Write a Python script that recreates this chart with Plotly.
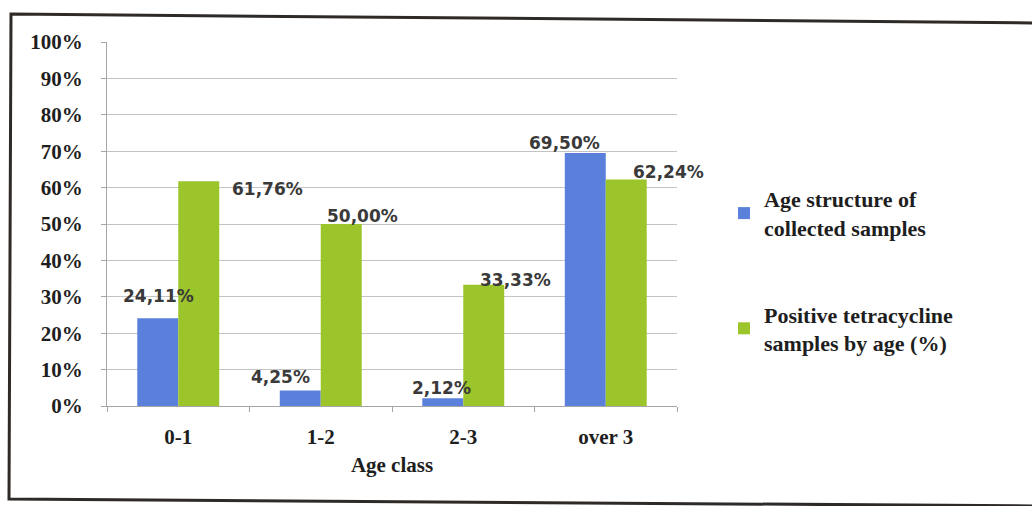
import plotly.graph_objects as go

# ---- data ----
categories = ["0-1", "1-2", "2-3", "over 3"]
age_structure = [24.11, 4.25, 2.12, 69.50]
positive_tetra = [61.76, 50.00, 33.33, 62.24]
series_names = ["Age structure of<br>collected samples",
                "Positive tetracycline<br>samples by age (%)"]
y_ticks = [0, 10, 20, 30, 40, 50, 60, 70, 80, 90, 100]
y_tick_labels = [f"{v}%" for v in y_ticks]

# ---- style ----
BLUE = "#5b80db"
GREEN = "#9cc52b"
GRID = "#c4c4c4"
AXIS = "#a6a6a6"
TEXT = "#1e1e1e"
LABEL_TEXT = "#3a3a3a"
SERIF = "Liberation Serif"

# label offsets (pixels) relative to category centre / bar top
blue_dx = [-20, -40, -22, -41]
blue_dy = [22, 14, 10, 10]
green_dx = [89, 42, 52, 63]
green_dy = [-8, 8, 5, 7]

# plot-area geometry in pixels
W, H = 1032, 506
PL, PR, PT, PB = 107, 677, 42, 406


def px2paper(px, py):
    return (px - PL) / (PR - PL), (PB - py) / (PB - PT)


fig = go.Figure()
fig.add_trace(go.Bar(x=categories, y=age_structure, name=series_names[0],
                     marker=dict(color=BLUE, line=dict(width=0)),
                     legendgroup="a"))
fig.add_trace(go.Bar(x=categories, y=positive_tetra, name=series_names[1],
                     marker=dict(color=GREEN, line=dict(width=0)),
                     legendgroup="b"))


def fmt(v):
    return f"{v:.2f}".replace(".", ",") + "%"


annotations = []
for i, c in enumerate(categories):
    for vals, dxs, dys in ((age_structure, blue_dx, blue_dy),
                           (positive_tetra, green_dx, green_dy)):
        annotations.append(dict(
            x=c, y=vals[i], xref="x", yref="y", text=fmt(vals[i]),
            showarrow=False, xanchor="center", yanchor="middle",
            xshift=dxs[i], yshift=dys[i],
            font=dict(family="DejaVu Sans", size=17, color=LABEL_TEXT,
                      weight="bold")))

# scanned outer frame (slightly tilted)
p1 = px2paper(11, 14)
p2 = px2paper(1040, 23)
p3 = px2paper(1040, 506)
p4 = px2paper(9, 499)
frame_path = (f"M{p2[0]},{p2[1]} L{p1[0]},{p1[1]} L{p4[0]},{p4[1]} "
              f"L{p3[0]},{p3[1]}")

fig.update_layout(
    width=W, height=H,
    margin=dict(l=PL, r=W - PR, t=PT, b=H - PB),
    paper_bgcolor="white", plot_bgcolor="white",
    barmode="group", bargap=0.425, bargroupgap=0,
    annotations=annotations,
    shapes=[dict(type="path", path=frame_path, xref="paper", yref="paper",
                 line=dict(color="#2e2a28", width=3))],
    showlegend=True,
    legend=dict(x=px2paper(724, 0)[0], y=px2paper(0, 178)[1],
                xanchor="left", yanchor="top",
                font=dict(family=SERIF, size=22, color=TEXT, weight="bold"),
                tracegroupgap=55, bgcolor="rgba(0,0,0,0)",
                traceorder="grouped"),
    xaxis=dict(
        range=[-0.5, 3.5],
        showline=True, linecolor=AXIS, linewidth=1,
        ticks="outside", ticklen=5, tickcolor=AXIS, tickson="boundaries",
        tickfont=dict(family=SERIF, size=21, color=TEXT, weight="bold"),
        ticklabelstandoff=12,
        title=dict(text="Age class", standoff=9,
                   font=dict(family=SERIF, size=21, color=TEXT,
                             weight="bold")),
        showgrid=False, fixedrange=True,
    ),
    yaxis=dict(
        range=[0, 100], tickvals=y_ticks, ticktext=y_tick_labels,
        showline=True, linecolor=AXIS, linewidth=1,
        ticks="outside", ticklen=5, tickcolor=AXIS,
        showgrid=True, gridcolor=GRID, gridwidth=1,
        zeroline=False,
        tickfont=dict(family=SERIF, size=21, color=TEXT, weight="bold"),
        ticklabelstandoff=14, fixedrange=True,
    ),
)

fig.write_html("out.html")
